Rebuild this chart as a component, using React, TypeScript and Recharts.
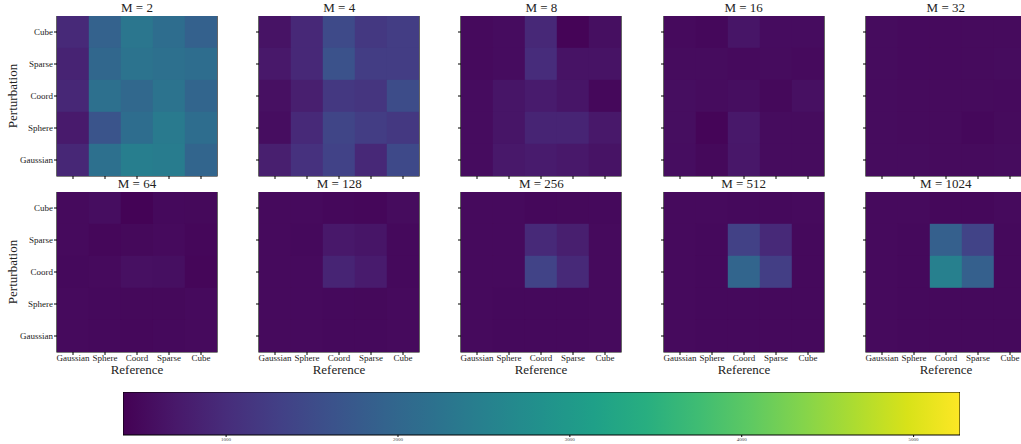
import React from "react";
import { ScatterChart, Scatter, XAxis, YAxis, ReferenceArea } from "recharts";

// axis categories (index 0 at the left / bottom)
const REFERENCES = ["Gaussian", "Sphere", "Coord", "Sparse", "Cube"];
const PERTURBATIONS = ["Gaussian", "Sphere", "Coord", "Sparse", "Cube"];
const M_VALUES = [2, 4, 8, 16, 32, 64, 128, 256, 512, 1024];

// each grid: rows top -> bottom (Cube, Sparse, Coord, Sphere, Gaussian),
// columns left -> right (Gaussian, Sphere, Coord, Sparse, Cube)
const m2 = [
  [950, 1900, 2300, 2130, 1880],
  [870, 2000, 2240, 2190, 2130],
  [920, 2190, 2030, 2240, 1960],
  [740, 1650, 2130, 2380, 2130],
  [920, 2190, 2460, 2420, 1960],
];
const m4 = [
  [640, 930, 1480, 1180, 1260],
  [700, 930, 1620, 1270, 1270],
  [600, 800, 1180, 1130, 1520],
  [560, 950, 1400, 1270, 1180],
  [800, 1080, 1350, 930, 1470],
];
const m8 = [
  [520, 550, 930, 440, 580],
  [520, 550, 1000, 640, 640],
  [550, 660, 750, 660, 490],
  [550, 660, 880, 880, 700],
  [550, 700, 750, 700, 640],
];
const m16 = [
  [520, 490, 660, 550, 550],
  [540, 540, 520, 540, 520],
  [570, 540, 570, 500, 600],
  [570, 450, 700, 540, 540],
  [560, 500, 690, 540, 540],
];
const m32 = [
  [540, 520, 520, 530, 530],
  [540, 520, 520, 530, 540],
  [540, 530, 530, 530, 520],
  [540, 530, 530, 490, 530],
  [540, 540, 530, 530, 540],
];
const m64 = [
  [520, 560, 430, 510, 500],
  [520, 480, 500, 520, 480],
  [510, 520, 600, 580, 470],
  [520, 510, 500, 500, 520],
  [520, 510, 490, 510, 520],
];
const m128 = [
  [520, 520, 490, 480, 540],
  [520, 510, 700, 660, 510],
  [520, 520, 880, 750, 510],
  [520, 520, 510, 500, 520],
  [520, 520, 510, 510, 520],
];
const m256 = [
  [520, 520, 490, 500, 510],
  [520, 520, 950, 800, 520],
  [520, 520, 1370, 950, 520],
  [520, 510, 510, 510, 520],
  [520, 510, 510, 510, 520],
];
const m512 = [
  [520, 520, 510, 510, 520],
  [520, 510, 1330, 950, 510],
  [520, 510, 1960, 1280, 510],
  [520, 510, 510, 510, 510],
  [520, 510, 510, 510, 510],
];
const m1024 = [
  [520, 520, 490, 490, 520],
  [520, 510, 1860, 1370, 510],
  [520, 510, 2500, 1860, 510],
  [520, 510, 510, 510, 510],
  [520, 510, 510, 510, 510],
];

const GRIDS = [m2, m4, m8, m16, m32, m64, m128, m256, m512, m1024];
const COLORBAR_TICKS = [1000, 2000, 3000, 4000, 5000];
const VMIN = 400;
const VMAX = 5270;

// viridis colormap anchors
const VIRIDIS = [
  [68, 1, 84], [72, 24, 106], [71, 45, 123], [66, 64, 134], [59, 82, 139],
  [51, 99, 141], [44, 114, 142], [38, 130, 142], [33, 145, 140], [31, 160, 136],
  [40, 174, 128], [63, 188, 115], [94, 201, 98], [132, 212, 75], [173, 220, 48],
  [216, 226, 25], [253, 231, 37],
];

function viridis(v: number) {
  const t = Math.min(1, Math.max(0, (v - VMIN) / (VMAX - VMIN)));
  const p = t * (VIRIDIS.length - 1);
  const i = Math.min(VIRIDIS.length - 2, Math.floor(p));
  const f = p - i;
  const c = VIRIDIS[i].map((a, k) => Math.round(a + (VIRIDIS[i + 1][k] - a) * f));
  return `rgb(${c[0]},${c[1]},${c[2]})`;
}

const FONT = "'Liberation Serif', 'DejaVu Serif', serif";
const TEXT = "#222";
const PLOT = 160;
const CELL = PLOT / 5;
const YW = 57;
const COL_X = (c: number) => 57 + 202.2 * c;
const ROW_Y = [15.8, 191.5];

function toCells(grid: number[][]) {
  const out: { x: number; y: number; v: number }[] = [];
  grid.forEach((row, r) => row.forEach((v, c) => out.push({ x: c, y: 4 - r, v })));
  return out;
}

const HeatCell = (props: any) => {
  const { cx, cy, payload } = props;
  return (
    <rect x={cx - CELL / 2 - 0.2} y={cy - CELL / 2 - 0.2} width={CELL + 0.4} height={CELL + 0.4} fill={viridis(payload.v)} />
  );
};

function Panel({ m, grid, row, col }: { m: number; grid: number[][]; row: number; col: number }) {
  const left = COL_X(col);
  const top = ROW_Y[row];
  const bottomRow = row === 1;
  const xh = bottomRow ? 27 : 4;
  return (
    <>
      <div style={{ position: "absolute", left, top: top - 16, width: PLOT, textAlign: "center", fontSize: 13, lineHeight: "15px", color: TEXT }}>
        M = {m}
      </div>
      <div style={{ position: "absolute", left: left - YW, top }}>
        <ScatterChart width={YW + PLOT + 2} height={PLOT + xh} margin={{ top: 0, right: 2, bottom: 0, left: 0 }}>
          <XAxis
            type="number"
            dataKey="x"
            domain={[-0.5, 4.5]}
            ticks={[0, 1, 2, 3, 4]}
            interval={0}
            allowDataOverflow
            height={xh}
            axisLine={false}
            tickSize={3}
            tickMargin={0}
            tickLine={{ stroke: "#000" }}
            tick={{ fontSize: 9, fill: TEXT, fontFamily: FONT }}
            tickFormatter={(i: number) => (bottomRow ? REFERENCES[i] : "")}
            label={bottomRow ? { value: "Reference", position: "insideBottom", offset: 5, fontSize: 13, fill: TEXT, fontFamily: FONT } : undefined}
          />
          <YAxis
            type="number"
            dataKey="y"
            domain={[-0.5, 4.5]}
            ticks={[0, 1, 2, 3, 4]}
            interval={0}
            allowDataOverflow
            width={YW}
            axisLine={false}
            tickSize={3}
            tickMargin={1}
            tickLine={{ stroke: "#000" }}
            tick={{ fontSize: 9, fill: TEXT, fontFamily: FONT }}
            tickFormatter={(i: number) => (col === 0 ? PERTURBATIONS[i] : "")}
          />
          <Scatter data={toCells(grid)} shape={HeatCell} isAnimationActive={false} />
          <ReferenceArea x1={-0.5} x2={4.5} y1={-0.5} y2={4.5} fill="none" stroke="#000" strokeWidth={1.2} ifOverflow="visible" />
        </ScatterChart>
      </div>
      {col === 0 && (
        <div
          style={{
            position: "absolute",
            left: 12.5,
            top: top + PLOT / 2,
            transform: "translate(-50%, -50%) rotate(-90deg)",
            fontSize: 13,
            color: TEXT,
            whiteSpace: "nowrap",
          }}
        >
          Perturbation
        </div>
      )}
    </>
  );
}

function Colorbar() {
  return (
    <div style={{ position: "absolute", left: 123, top: 392 }}>
      <ScatterChart width={837} height={52} margin={{ top: 0, right: 0, bottom: 0, left: 0 }}>
        <defs>
          <linearGradient id="viridisGrad" x1="0" y1="0" x2="1" y2="0">
            {VIRIDIS.map((c, i) => (
              <stop key={i} offset={i / (VIRIDIS.length - 1)} stopColor={`rgb(${c[0]},${c[1]},${c[2]})`} />
            ))}
          </linearGradient>
        </defs>
        <XAxis
          type="number"
          dataKey="x"
          domain={[VMIN, VMAX]}
          ticks={COLORBAR_TICKS}
          interval={0}
          allowDataOverflow
          height={9}
          axisLine={false}
          tickSize={2}
          tickMargin={0}
          tickLine={{ stroke: "#000" }}
          tick={{ fontSize: 5, fill: "#444", fontFamily: FONT }}
        />
        <YAxis type="number" dataKey="y" domain={[0, 1]} hide />
        <Scatter data={COLORBAR_TICKS.map((x) => ({ x, y: 0.5 }))} shape={() => null} isAnimationActive={false} />
        <ReferenceArea x1={VMIN} x2={VMAX} y1={0} y2={1} fill="url(#viridisGrad)" fillOpacity={1} stroke="#000" strokeWidth={1} ifOverflow="visible" />
      </ScatterChart>
    </div>
  );
}

export default function App() {
  return (
    <div
      style={{
        position: "absolute",
        left: 0,
        top: 0,
        width: 1021,
        height: 444,
        overflow: "hidden",
        background: "#fff",
        fontFamily: FONT,
      }}
    >
      {M_VALUES.map((m, k) => (
        <Panel key={m} m={m} grid={GRIDS[k]} row={Math.floor(k / 5)} col={k % 5} />
      ))}
      <Colorbar />
    </div>
  );
}
